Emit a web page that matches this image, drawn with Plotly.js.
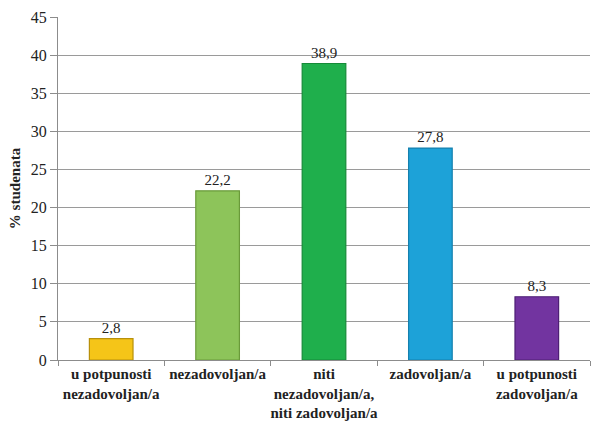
<!DOCTYPE html>
<html><head><meta charset="utf-8">
<script src="https://cdn.plot.ly/plotly-3.0.1.min.js"></script>
<style>html,body{margin:0;padding:0;background:#fff}</style>
</head><body>
<div id="chart" style="width:598px;height:423px"></div>
<script>
const categories = ["u potpunosti<br>nezadovoljan/a","nezadovoljan/a","niti<br>nezadovoljan/a,<br>niti zadovoljan/a","zadovoljan/a","u potpunosti<br>zadovoljan/a"];
const values = [2.8, 22.2, 38.9, 27.8, 8.3];
const barColors = ["#F5C518","#8DC45A","#1FAF4C","#1DA2D8","#7234A0"];
const lineColors = ["#B8900A","#6A9A3A","#158A38","#1580AE","#4E1F75"];
const yTicks = [0,5,10,15,20,25,30,35,40,45];

const font = "Times New Roman, serif";
Plotly.newPlot('chart', [{
  type:'bar', x:categories, y:values,
  marker:{color:barColors, line:{color:lineColors, width:1.2}},
  width:0.41,
  texttemplate:'%{y:.1f}',
  textposition:'outside', cliponaxis:false,
  textfont:{family:font, size:15, color:'#222'},
  hoverinfo:'none'
}], {
  width:598, height:423,
  margin:{l:58, r:8, t:17, b:63},
  separators:', ',
  paper_bgcolor:'#fff', plot_bgcolor:'#fff',
  showlegend:false,
  font:{family:font, color:'#222'},
  xaxis:{
    showgrid:false, showline:true, linecolor:'#8c8c8c', linewidth:1,
    ticks:'outside', tickson:'boundaries', ticklen:5, tickcolor:'#8c8c8c',
    tickangle:0,
    tickfont:{family:font, size:15, color:'#222', weight:'bold'},
    automargin:false
  },
  yaxis:{
    range:[0,45], tickvals:yTicks, showgrid:true, gridcolor:'#9a9a9a', gridwidth:1,
    showline:true, linecolor:'#8c8c8c', linewidth:1,
    ticks:'outside', ticklen:7, tickcolor:'#8c8c8c',
    tickfont:{family:font, size:16, color:'#222'},
    zeroline:false, automargin:false,
    title:{text:'% studenata', font:{family:font, size:15, color:'#222', weight:'bold'}, standoff:6}
  },
  bargap:0.59
}, {displayModeBar:false, staticPlot:true});
</script>
</body></html>
